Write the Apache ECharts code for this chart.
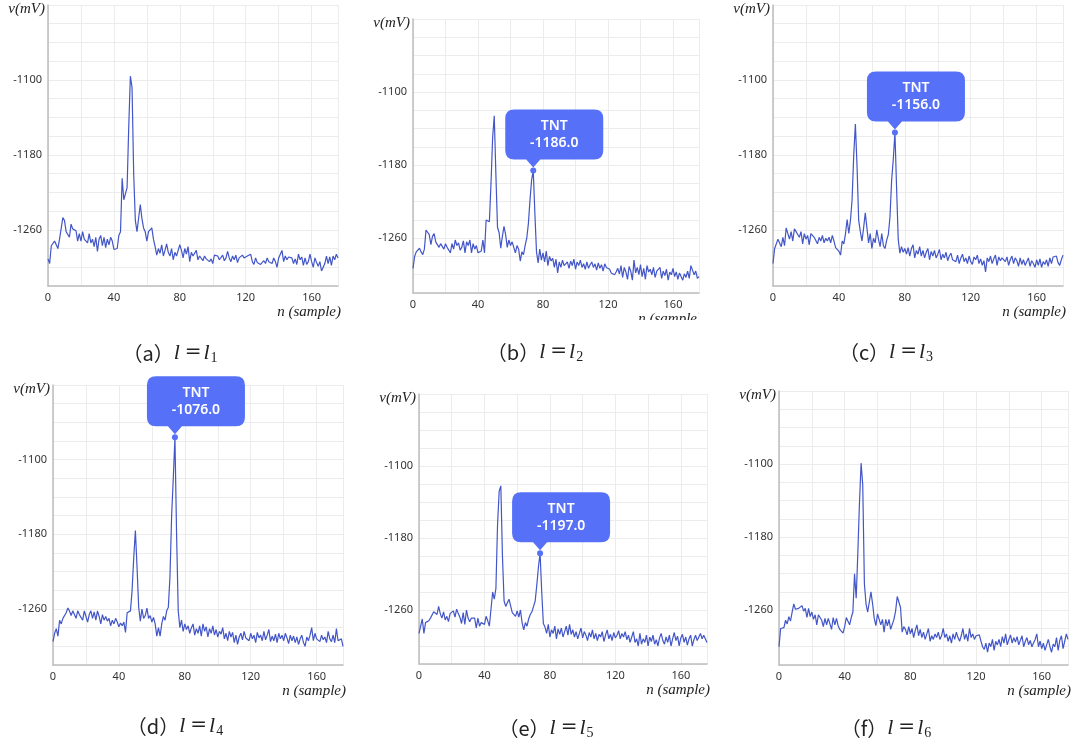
<!DOCTYPE html>
<html>
<head>
<meta charset="utf-8">
<script src="https://cdn.jsdelivr.net/npm/echarts@6/dist/echarts.min.js"></script>
<style>
  html, body { margin: 0; padding: 0; background: #fff; }
  #chart { width: 1076px; height: 745px; }
</style>
</head>
<body>
<div id="chart"></div>
<script>
// 采样点 n = 0..176，电压 v(mV)
const xLabels = [0, 40, 80, 120, 160];
const yLabels = [-1100, -1180, -1260];
const panelTags = ['a', 'b', 'c', 'd', 'e', 'f'];
const lineIndex = ['1', '2', '3', '4', '5', '6'];
const tntName = 'TNT';
const tntIndex = [null, 74, 74, 74, 74, null];

const voltsA = [
  -1291,-1296,-1277,-1277,-1272,-1270,-1280,-1270,-1270,-1247,
  -1250,-1262,-1260,-1268,-1254,-1259,-1261,-1261,-1272,-1264,
  -1272,-1262,-1270,-1268,-1274,-1264,-1274,-1270,-1278,-1268,
  -1283,-1270,-1266,-1277,-1268,-1279,-1270,-1276,-1268,-1272,
  -1281,-1283,-1280,-1266,-1262,-1205,-1228,-1226,-1215,-1150,
  -1096,-1108,-1200,-1250,-1262,-1262,-1233,-1248,-1258,-1262,
  -1272,-1262,-1260,-1258,-1270,-1278,-1287,-1280,-1285,-1276,
  -1288,-1282,-1275,-1284,-1288,-1280,-1292,-1284,-1288,-1282,
  -1276,-1282,-1290,-1280,-1286,-1278,-1294,-1284,-1288,-1290,
  -1282,-1292,-1288,-1286,-1293,-1288,-1291,-1289,-1294,-1291,
  -1296,-1287,-1289,-1288,-1292,-1290,-1287,-1293,-1290,-1283,
  -1290,-1294,-1288,-1292,-1287,-1295,-1290,-1292,-1287,-1290,
  -1292,-1288,-1290,-1286,-1294,-1297,-1290,-1295,-1297,-1297,
  -1296,-1293,-1296,-1290,-1294,-1292,-1296,-1290,-1294,-1300,
  -1290,-1292,-1282,-1294,-1288,-1292,-1289,-1291,-1290,-1296,
  -1291,-1297,-1286,-1292,-1289,-1298,-1290,-1297,-1294,-1286,
  -1294,-1300,-1290,-1295,-1299,-1294,-1304,-1300,-1296,-1288,
  -1296,-1289,-1298,-1288,-1292,-1286,-1290
];
const voltsB = [
  -1293,-1280,-1275,-1273,-1271,-1275,-1278,-1272,-1251,-1250,
  -1256,-1267,-1258,-1255,-1264,-1262,-1270,-1266,-1264,-1272,
  -1266,-1270,-1268,-1276,-1266,-1272,-1262,-1268,-1265,-1273,
  -1270,-1263,-1276,-1264,-1268,-1262,-1276,-1266,-1272,-1268,
  -1276,-1276,-1274,-1262,-1276,-1240,-1238,-1242,-1200,-1150,
  -1126,-1190,-1248,-1254,-1271,-1258,-1247,-1256,-1270,-1262,
  -1268,-1264,-1266,-1276,-1268,-1272,-1285,-1275,-1278,-1268,
  -1260,-1244,-1218,-1196,-1186,-1233,-1275,-1287,-1272,-1284,
  -1276,-1286,-1274,-1290,-1280,-1285,-1282,-1292,-1283,-1298,
  -1286,-1292,-1284,-1290,-1288,-1286,-1293,-1285,-1290,-1283,
  -1294,-1286,-1290,-1284,-1292,-1288,-1294,-1286,-1293,-1289,
  -1286,-1292,-1288,-1295,-1287,-1293,-1289,-1296,-1288,-1292,
  -1290,-1294,-1298,-1296,-1300,-1297,-1293,-1299,-1290,-1303,
  -1292,-1297,-1305,-1291,-1296,-1306,-1284,-1298,-1292,-1300,
  -1289,-1302,-1293,-1305,-1290,-1297,-1294,-1300,-1292,-1303,
  -1296,-1298,-1292,-1304,-1296,-1301,-1294,-1306,-1297,-1300,
  -1293,-1302,-1297,-1305,-1298,-1300,-1306,-1299,-1303,-1296,
  -1304,-1290,-1292,-1300,-1296,-1304,-1302
];
const voltsC = [
  -1296,-1280,-1280,-1270,-1272,-1278,-1268,-1277,-1258,-1258,
  -1270,-1262,-1272,-1259,-1262,-1265,-1268,-1262,-1275,-1264,
  -1270,-1266,-1276,-1264,-1262,-1268,-1266,-1275,-1268,-1272,
  -1266,-1274,-1269,-1272,-1268,-1274,-1266,-1272,-1279,-1281,
  -1283,-1287,-1272,-1275,-1264,-1249,-1264,-1250,-1228,-1180,
  -1147,-1192,-1250,-1262,-1272,-1258,-1242,-1258,-1274,-1264,
  -1280,-1269,-1274,-1260,-1270,-1278,-1264,-1277,-1280,-1271,
  -1265,-1246,-1207,-1185,-1156,-1215,-1270,-1285,-1278,-1284,
  -1280,-1286,-1279,-1288,-1280,-1276,-1290,-1282,-1286,-1278,
  -1288,-1282,-1290,-1284,-1280,-1292,-1283,-1288,-1282,-1290,
  -1286,-1281,-1292,-1286,-1290,-1284,-1293,-1288,-1285,-1292,
  -1290,-1294,-1287,-1296,-1290,-1286,-1294,-1290,-1296,-1288,
  -1294,-1297,-1289,-1292,-1287,-1296,-1291,-1298,-1293,-1305,
  -1290,-1294,-1288,-1296,-1291,-1287,-1298,-1289,-1293,-1290,
  -1291,-1294,-1289,-1298,-1292,-1288,-1296,-1290,-1293,-1299,
  -1290,-1297,-1292,-1298,-1294,-1290,-1299,-1293,-1296,-1300,
  -1292,-1298,-1291,-1300,-1294,-1297,-1292,-1299,-1290,-1296,
  -1289,-1291,-1288,-1295,-1298,-1292,-1287
];
const voltsD = [
  -1295,-1286,-1281,-1289,-1272,-1276,-1270,-1269,-1264,-1259,
  -1262,-1267,-1262,-1263,-1270,-1262,-1266,-1264,-1272,-1262,
  -1268,-1274,-1266,-1262,-1270,-1263,-1272,-1262,-1268,-1276,
  -1266,-1272,-1268,-1273,-1270,-1278,-1272,-1276,-1270,-1274,
  -1279,-1275,-1278,-1274,-1285,-1264,-1264,-1262,-1240,-1205,
  -1176,-1215,-1258,-1273,-1260,-1270,-1267,-1259,-1270,-1267,
  -1274,-1269,-1276,-1289,-1280,-1289,-1276,-1268,-1272,-1262,
  -1258,-1225,-1160,-1120,-1076,-1180,-1262,-1280,-1272,-1284,
  -1276,-1282,-1278,-1286,-1280,-1276,-1288,-1281,-1286,-1278,
  -1289,-1276,-1284,-1279,-1290,-1281,-1286,-1278,-1288,-1282,
  -1290,-1284,-1287,-1280,-1292,-1286,-1294,-1284,-1290,-1285,
  -1296,-1288,-1298,-1290,-1286,-1293,-1284,-1291,-1289,-1294,
  -1286,-1292,-1288,-1296,-1285,-1291,-1288,-1294,-1284,-1293,
  -1288,-1282,-1295,-1289,-1294,-1287,-1296,-1286,-1292,-1288,
  -1294,-1286,-1291,-1297,-1288,-1294,-1289,-1296,-1290,-1298,
  -1292,-1288,-1296,-1300,-1290,-1294,-1288,-1280,-1294,-1286,
  -1292,-1290,-1295,-1288,-1293,-1290,-1296,-1284,-1292,-1295,
  -1288,-1296,-1281,-1294,-1296,-1292,-1300
];
const voltsE = [
  -1286,-1288,-1270,-1286,-1274,-1273,-1272,-1269,-1267,-1262,
  -1260,-1265,-1256,-1264,-1269,-1262,-1271,-1267,-1273,-1264,
  -1266,-1261,-1268,-1259,-1264,-1268,-1275,-1263,-1276,-1260,
  -1269,-1273,-1269,-1270,-1269,-1280,-1269,-1278,-1274,-1272,
  -1276,-1267,-1272,-1278,-1278,-1240,-1248,-1236,-1165,-1128,
  -1122,-1200,-1250,-1256,-1252,-1248,-1250,-1263,-1263,-1267,
  -1261,-1268,-1260,-1274,-1282,-1274,-1278,-1270,-1265,-1262,
  -1256,-1250,-1232,-1212,-1197,-1240,-1275,-1279,-1286,-1276,
  -1290,-1282,-1286,-1278,-1292,-1281,-1287,-1280,-1290,-1284,
  -1278,-1288,-1276,-1287,-1282,-1290,-1284,-1292,-1286,-1280,
  -1291,-1284,-1288,-1294,-1285,-1290,-1282,-1292,-1286,-1294,
  -1287,-1290,-1284,-1295,-1288,-1282,-1292,-1287,-1294,-1285,
  -1291,-1288,-1283,-1292,-1286,-1290,-1284,-1293,-1288,-1296,
  -1290,-1284,-1296,-1292,-1300,-1286,-1298,-1292,-1296,-1288,
  -1300,-1290,-1295,-1288,-1298,-1293,-1300,-1291,-1286,-1294,
  -1298,-1290,-1296,-1288,-1300,-1292,-1285,-1294,-1289,-1300,
  -1291,-1287,-1296,-1290,-1299,-1292,-1288,-1300,-1293,-1288,
  -1294,-1290,-1286,-1292,-1288,-1286,-1296
];
const voltsF = [
  -1300,-1280,-1279,-1279,-1271,-1275,-1267,-1272,-1262,-1253,
  -1259,-1261,-1258,-1257,-1255,-1261,-1258,-1268,-1258,-1267,
  -1262,-1270,-1265,-1276,-1265,-1263,-1271,-1278,-1269,-1276,
  -1269,-1275,-1281,-1268,-1276,-1269,-1277,-1281,-1283,-1285,
  -1278,-1268,-1272,-1276,-1268,-1262,-1220,-1247,-1198,-1143,
  -1099,-1123,-1231,-1253,-1262,-1251,-1240,-1253,-1269,-1277,
  -1264,-1266,-1276,-1270,-1284,-1270,-1277,-1270,-1281,-1279,
  -1270,-1261,-1245,-1244,-1257,-1284,-1278,-1281,-1287,-1278,
  -1286,-1280,-1290,-1282,-1276,-1288,-1281,-1290,-1284,-1292,
  -1286,-1280,-1294,-1288,-1292,-1286,-1290,-1284,-1292,-1288,
  -1280,-1290,-1286,-1294,-1288,-1296,-1286,-1292,-1284,-1290,
  -1294,-1288,-1280,-1292,-1286,-1294,-1280,-1290,-1286,-1292,
  -1288,-1290,-1287,-1294,-1300,-1303,-1296,-1306,-1296,-1300,
  -1292,-1304,-1294,-1298,-1292,-1300,-1289,-1296,-1286,-1298,
  -1292,-1287,-1296,-1290,-1295,-1289,-1298,-1293,-1288,-1300,
  -1294,-1290,-1298,-1293,-1300,-1296,-1292,-1286,-1300,-1294,
  -1302,-1296,-1304,-1298,-1292,-1300,-1306,-1297,-1300,-1290,
  -1304,-1293,-1288,-1302,-1294,-1286,-1292
];
const allVolts = [voltsA, voltsB, voltsC, voltsD, voltsE, voltsF];

// 每个子图的位置
const grids = [
  { left: 48, top: 5, width: 290, height: 281 },
  { left: 413, top: 19, width: 286, height: 274 },
  { left: 773, top: 5, width: 290, height: 281 },
  { left: 53, top: 385, width: 290, height: 280 },
  { left: 419, top: 394, width: 288, height: 270 },
  { left: 779, top: 391, width: 289, height: 274 }
];
const captionPos = [[170, 353], [535, 352], [886, 352], [175, 726], [546, 728], [886, 728]];

const lineColor = '#4356c8';
const tipColor = '#5670f7';
const calloutPath = 'path://M9,0 L89,0 Q98,0 98,9 L98,41 Q98,50 89,50 L35,50 L28,58 L21,50 L9,50 Q0,50 0,41 L0,9 Q0,0 9,0 Z';
const mathFont = 'Liberation Serif';

const chart = echarts.init(document.getElementById('chart'));

const xAxes = grids.map((g, i) => ({
  gridIndex: i,
  type: 'value',
  min: 0,
  max: 176,
  interval: 20,
  name: 'n (sample)',
  nameLocation: 'end',
  nameGap: 3,
  nameTextStyle: {
    fontFamily: mathFont, fontStyle: 'italic', fontSize: 15, color: '#222',
    align: 'right', verticalAlign: 'top', padding: [19, 0, 0, 0]
  },
  axisLine: { show: true, onZero: false, lineStyle: { color: '#bdbdbd', width: 1.5 } },
  axisTick: { show: false },
  axisLabel: {
    formatter: v => (xLabels.includes(v) ? String(v) : ''),
    color: '#333', fontSize: 11, fontFamily: 'Noto Sans', margin: 6
  },
  splitLine: { show: true, lineStyle: { color: '#ececec', width: 1 } }
}));

const yAxes = grids.map((g, i) => ({
  gridIndex: i,
  type: 'value',
  min: -1320,
  max: -1020,
  interval: 20,
  name: 'v(mV)',
  nameLocation: 'end',
  nameGap: -4,
  nameTextStyle: {
    fontFamily: mathFont, fontStyle: 'italic', fontSize: 15, color: '#222',
    align: 'right', verticalAlign: 'middle', padding: [0, 3, 0, 0]
  },
  axisLine: { show: true, onZero: false, lineStyle: { color: '#bdbdbd', width: 1.5 } },
  axisTick: { show: false },
  axisLabel: {
    formatter: v => (yLabels.includes(v) ? String(v) : ''),
    color: '#333', fontSize: 11, fontFamily: 'Noto Sans', margin: 6
  },
  splitLine: { show: true, lineStyle: { color: '#ececec', width: 1 } }
}));

const series = allVolts.map((arr, i) => {
  const s = {
    type: 'line',
    xAxisIndex: i,
    yAxisIndex: i,
    data: arr.map((v, n) => [n, v]),
    showSymbol: false,
    lineStyle: { color: lineColor, width: 1.2 },
    itemStyle: { color: lineColor }
  };
  const k = tntIndex[i];
  if (k !== null) {
    s.markPoint = {
      silent: true,
      data: [
        {
          coord: [k, arr[k]],
          value: arr[k],
          symbol: calloutPath,
          symbolSize: [98, 58],
          symbolOffset: [21, -32],
          itemStyle: { color: tipColor },
          label: {
            show: true,
            position: 'inside',
            offset: [0, -4],
            formatter: p => tntName + '\n' + p.value.toFixed(1),
            color: '#fff',
            fontSize: 14,
            fontWeight: 600,
            lineHeight: 17,
            fontFamily: 'Noto Sans'
          }
        },
        {
          coord: [k, arr[k]],
          value: arr[k],
          symbol: 'circle',
          symbolSize: 6,
          itemStyle: { color: tipColor },
          label: { show: false }
        }
      ]
    };
  }
  return s;
});

// 子图标题 (a) l = l1 ...
const captions = panelTags.map((tag, i) => ({
  type: 'text',
  x: captionPos[i][0],
  y: captionPos[i][1],
  z: 50,
  style: {
    text: '{p|（' + tag + '）}{m|l}{e|=}{m|l}{s|' + lineIndex[i] + '}',
    align: 'center',
    verticalAlign: 'middle',
    rich: {
      p: { fontFamily: 'Noto Sans CJK KR', fontSize: 20, fill: '#222', verticalAlign: 'middle' },
      m: { fontFamily: mathFont, fontStyle: 'italic', fontSize: 22, fill: '#222', verticalAlign: 'middle' },
      e: { fontFamily: 'DejaVu Serif', fontSize: 20, fill: '#222', padding: [0, 2, 0, 5], verticalAlign: 'middle' },
      s: { fontFamily: mathFont, fontSize: 14, fill: '#222', padding: [10, 0, 0, 1], verticalAlign: 'middle' }
    }
  }
}));

// (b) 原图在右下方被裁切
const masks = [
  { type: 'rect', z: 100, shape: { x: 600, y: 320, width: 120, height: 14 }, style: { fill: '#fff' } },
  { type: 'rect', z: 100, shape: { x: 699, y: 296, width: 16, height: 30 }, style: { fill: '#fff' } }
];

chart.setOption({
  backgroundColor: '#fff',
  animation: false,
  grid: grids,
  xAxis: xAxes,
  yAxis: yAxes,
  series: series,
  graphic: captions.concat(masks)
});
</script>
</body>
</html>
